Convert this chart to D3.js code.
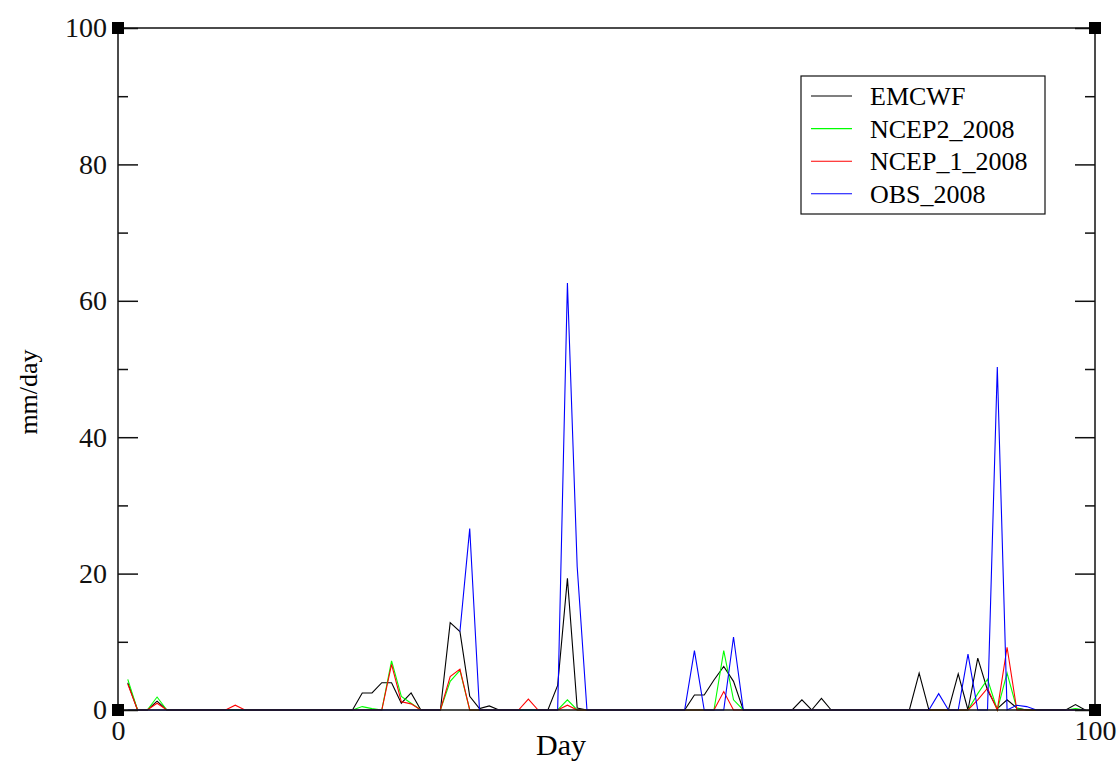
<!DOCTYPE html>
<html>
<head>
<meta charset="utf-8">
<script src="https://cdn.jsdelivr.net/npm/d3@7"></script>
<style>
  body { margin: 0; background: #fff; }
  text { font-family: "Liberation Serif", "Times New Roman", serif; }
</style>
</head>
<body>
<div id="chart"></div>
<script>
var svgWidth = 1117;
var svgHeight = 761;

var margin = { top: 28, right: 22, bottom: 51, left: 118 };
var width = svgWidth - margin.left - margin.right;
var height = svgHeight - margin.top - margin.bottom;

// Days 1..99, values in mm/day (null = no data)
var days = d3.range(1, 100);

function series(points) {
  // points: {day: value}; every other day is 0
  return days.map(function(d) { return points.hasOwnProperty(d) ? points[d] : 0; });
}

var emcwf = series({1: 4.0, 4: 1.3, 25: 2.5, 26: 2.5, 27: 4.0, 28: 4.0, 29: 1.0, 30: 2.5,
  34: 12.8, 35: 11.5, 36: 2.0, 37: 0.2, 38: 0.6, 45: 3.6, 46: 19.3, 47: 0.3,
  59: 2.2, 60: 2.2, 61: 4.4, 62: 6.4, 63: 4.2, 70: 1.5, 72: 1.7,
  82: 5.4, 86: 5.3, 88: 7.6, 89: 2.9, 90: 0.2, 91: 1.5, 92: 0.3, 98: 0.8});

var ncep2 = series({1: 4.5, 4: 1.9, 25: 0.5, 26: 0.2, 28: 7.2, 29: 2.0, 30: 1.0,
  34: 4.2, 35: 5.8, 46: 1.5, 62: 8.7, 63: 1.5,
  88: 2.4, 89: 4.5, 91: 5.4, 92: 0.2, 98: 0.2});

var ncep1 = series({1: 3.8, 4: 1.0, 12: 0.7, 28: 6.7, 29: 1.2, 30: 0.9,
  34: 4.9, 35: 6.0, 42: 1.6, 46: 0.7, 62: 2.7,
  88: 1.5, 89: 3.2, 91: 9.2});

var obs = series({34: null, 35: 11.5, 36: 26.6, 46: 62.6, 47: 21.0,
  59: 8.7, 63: 10.7, 84: 2.4, 87: 8.2, 90: 50.3, 92: 0.7, 93: 0.5});

var seriesNames = ["EMCWF", "NCEP2_2008", "NCEP_1_2008", "OBS_2008"];
var seriesColors = ["#000000", "#00ff00", "#ff0000", "#0000ff"];
var seriesValues = [emcwf, ncep2, ncep1, obs];

var yMajorTicks = [0, 20, 40, 60, 80, 100];
var yMinorTicks = [10, 30, 50, 70, 90];
var xTicks = [0, 100];

var svg = d3.select("#chart")
  .append("svg")
  .attr("width", svgWidth)
  .attr("height", svgHeight);

var chartGroup = svg.append("g")
  .attr("transform", `translate(${margin.left}, ${margin.top})`);

var xScale = d3.scaleLinear().domain([0, 100]).range([0, width]);
var yScale = d3.scaleLinear().domain([0, 100]).range([height, 0]);

// data lines
var line = d3.line()
  .defined(d => d.v !== null)
  .x(d => xScale(d.day))
  .y(d => yScale(d.v));

seriesValues.forEach(function(vals, i) {
  var pts = days.map((d, j) => ({ day: d, v: vals[j] }));
  chartGroup.append("path")
    .datum(pts)
    .attr("fill", "none")
    .attr("stroke", seriesColors[i])
    .attr("stroke-width", 1.1)
    .attr("d", line);
});

// axes
function styleAxis(g) {
  g.select(".domain").remove();
  g.selectAll("line").attr("stroke", "#111").attr("stroke-width", 1.5);
  g.selectAll("text").attr("font-family", "Liberation Serif, serif").attr("font-size", 28).attr("fill", "#111");
}

chartGroup.append("g")
  .call(d3.axisLeft(yScale).tickValues(yMajorTicks).tickSize(-20).tickPadding(11))
  .call(styleAxis);

chartGroup.append("g")
  .call(d3.axisLeft(yScale).tickValues(yMinorTicks).tickSize(-10).tickFormat(""))
  .call(styleAxis);

chartGroup.append("g")
  .attr("transform", `translate(${width}, 0)`)
  .call(d3.axisRight(yScale).tickValues(yMajorTicks).tickSize(-20).tickFormat(""))
  .call(styleAxis);

chartGroup.append("g")
  .attr("transform", `translate(${width}, 0)`)
  .call(d3.axisRight(yScale).tickValues(yMinorTicks).tickSize(-10).tickFormat(""))
  .call(styleAxis);

chartGroup.append("g")
  .attr("transform", `translate(0, ${height})`)
  .call(d3.axisBottom(xScale).tickValues(xTicks).tickSize(0).tickPadding(10))
  .call(styleAxis);

// frame
chartGroup.append("rect")
  .attr("x", 0).attr("y", 0)
  .attr("width", width).attr("height", height)
  .attr("fill", "none")
  .attr("stroke", "#111")
  .attr("stroke-width", 1.5);

// corner squares
[[0, 0], [width, 0], [0, height], [width, height]].forEach(function(c) {
  chartGroup.append("rect")
    .attr("x", c[0] - 6).attr("y", c[1] - 6)
    .attr("width", 12).attr("height", 12)
    .attr("fill", "#000");
});

// axis labels
svg.append("text")
  .attr("x", 561)
  .attr("y", 755)
  .attr("text-anchor", "middle")
  .attr("font-size", 30)
  .text("Day");

svg.append("text")
  .attr("transform", "translate(37, 392) rotate(-90)")
  .attr("text-anchor", "middle")
  .attr("font-size", 26)
  .text("mm/day");

// legend
var legend = svg.append("g").attr("transform", "translate(801, 76)");
legend.append("rect")
  .attr("width", 244).attr("height", 138)
  .attr("fill", "#fff")
  .attr("stroke", "#111")
  .attr("stroke-width", 1.2);

seriesNames.forEach(function(name, i) {
  var y = 20 + i * 32.6;
  legend.append("line")
    .attr("x1", 10).attr("x2", 51)
    .attr("y1", y).attr("y2", y)
    .attr("stroke", seriesColors[i])
    .attr("stroke-width", 1.1);
  legend.append("text")
    .attr("x", 69).attr("y", y)
    .attr("dy", "0.35em")
    .attr("font-size", 26)
    .text(name);
});
</script>
</body>
</html>
